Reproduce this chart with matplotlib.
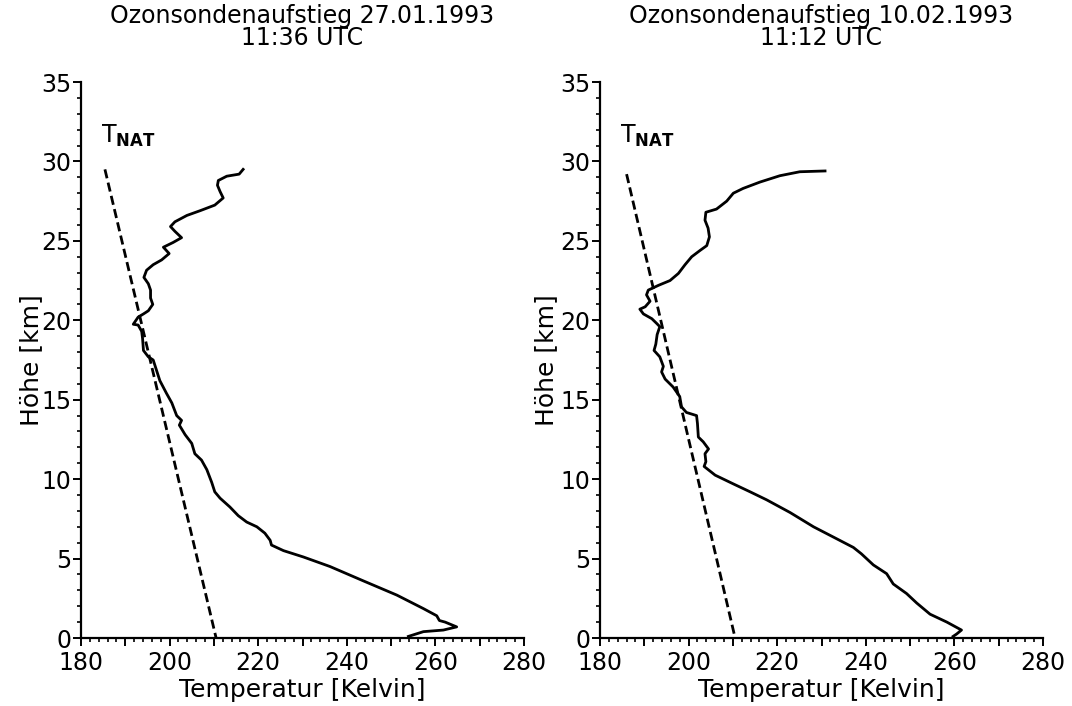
import matplotlib
matplotlib.use("Agg")
import matplotlib.pyplot as plt
from matplotlib.ticker import MultipleLocator, FuncFormatter

plt.rcParams['font.family'] = ['DejaVu Sans']
plt.rcParams['mathtext.default'] = 'regular'

# Sounding of 27.01.1993, 11:36 UTC: temperature [K] vs. altitude [km]
temp_0127 = [253.9, 257.3, 261.8, 264.8, 262.2, 260.9, 260.3, 257.3, 251.3, 243.7,
             236.2, 230.2, 225.7, 223.0, 222.7, 221.5, 219.7, 217.4, 215.5, 213.6,
             211.4, 210.2, 209.5, 208.4, 207.2, 205.7, 205.0, 203.5, 202.2, 202.7,
             201.6, 200.5, 199.3, 197.8, 196.3, 195.2, 194.1, 193.9, 193.7, 192.9,
             191.8, 192.9, 194.1, 195.2, 196.2, 195.7, 195.7, 195.2, 194.2, 194.8,
             196.3, 198.2, 199.9, 198.6, 200.8, 202.7, 201.2, 200.2, 201.2, 203.9,
             206.9, 210.2, 212.1, 211.4, 210.8, 211.0, 212.9, 215.7, 216.6]
alt_0127 = [0.1, 0.4, 0.5, 0.7, 1.0, 1.1, 1.4, 1.85, 2.7, 3.6,
            4.5, 5.1, 5.5, 5.85, 6.15, 6.6, 7.0, 7.3, 7.7, 8.25,
            8.8, 9.2, 9.8, 10.6, 11.2, 11.6, 12.25, 12.8, 13.4, 13.7,
            14.0, 14.8, 15.4, 16.2, 17.5, 17.7, 18.1, 18.85, 19.3, 19.7,
            19.75, 20.2, 20.4, 20.6, 21.0, 21.4, 21.9, 22.3, 22.7, 23.15,
            23.5, 23.8, 24.2, 24.6, 24.9, 25.2, 25.6, 25.9, 26.2, 26.6,
            26.9, 27.25, 27.7, 28.1, 28.5, 28.8, 29.07, 29.2, 29.5]

# Sounding of 10.02.1993, 11:12 UTC
temp_0210 = [259.7, 260.5, 261.6, 258.3, 254.5, 251.5, 249.2, 246.2, 244.7, 241.7,
             239.0, 237.2, 233.4, 228.2, 222.9, 217.6, 213.9, 210.1, 206.0, 203.5,
             203.9, 203.7, 204.5, 203.3, 202.2, 202.0, 201.8, 199.5, 198.4, 198.0,
             196.5, 194.7, 193.9, 194.3, 193.5, 192.2, 192.6, 192.9, 193.5, 192.8,
             191.7, 189.8, 189.0, 190.2, 191.3, 190.5, 190.9, 193.2, 195.8, 197.7,
             199.2, 200.7, 202.6, 204.1, 204.7, 204.4, 203.7, 203.9, 206.3, 208.6,
             210.1, 212.3, 216.1, 220.6, 225.1, 230.8]
alt_0210 = [0.1, 0.25, 0.5, 1.0, 1.5, 2.2, 2.8, 3.4, 4.05, 4.6,
            5.3, 5.7, 6.25, 7.0, 7.9, 8.7, 9.2, 9.7, 10.25, 10.8,
            11.1, 11.6, 11.9, 12.35, 12.65, 13.5, 14.0, 14.2, 14.55, 15.2,
            15.8, 16.3, 16.75, 17.1, 17.7, 18.1, 18.5, 19.1, 19.6, 19.8,
            20.1, 20.4, 20.7, 20.85, 21.2, 21.6, 21.9, 22.2, 22.5, 22.95,
            23.5, 24.0, 24.4, 24.7, 25.25, 25.8, 26.3, 26.8, 27.0, 27.5,
            28.0, 28.3, 28.7, 29.1, 29.35, 29.4]

# NAT existence temperature
tnat_0127_temp = [185.4, 210.5]
tnat_0127_alt = [29.5, 0.0]
tnat_0210_temp = [186.0, 210.5]
tnat_0210_alt = [29.2, 0.0]

titles = ["Ozonsondenaufstieg 27.01.1993\n11:36 UTC",
          "Ozonsondenaufstieg 10.02.1993\n11:12 UTC"]
xlabel = "Temperatur [Kelvin]"
ylabel = "Höhe [km]"
tnat_label = r"T$_{\mathbf{NAT}}$"

W, H = 1072, 706
fig = plt.figure(figsize=(W / 100, H / 100), dpi=100)

panels = [
    (81, temp_0127, alt_0127, tnat_0127_temp, tnat_0127_alt, titles[0], 31),
    (600, temp_0210, alt_0210, tnat_0210_temp, tnat_0210_alt, titles[1], 546),
]

for left_px, t, z, tn_t, tn_z, title, ylab_px in panels:
    ax = fig.add_axes([left_px / W, 1 - 638 / H, 443 / W, 556 / H])
    ax.plot(t, z, color='black', lw=2.0, solid_joinstyle='round', clip_on=False)
    ax.plot(tn_t, tn_z, color='black', lw=2.0, dashes=(3.3, 1.6), clip_on=False)
    ax.text(184.6, 31.2, tnat_label, fontsize=17, ha='left', va='baseline')

    ax.set_xlim(180, 280)
    ax.set_ylim(0, 35)
    for side in ('top', 'right'):
        ax.spines[side].set_visible(False)
    for side in ('left', 'bottom'):
        ax.spines[side].set_linewidth(1.6)

    ax.xaxis.set_major_locator(MultipleLocator(10))
    ax.xaxis.set_minor_locator(MultipleLocator(2))
    ax.xaxis.set_major_formatter(FuncFormatter(
        lambda v, p: f"{v:.0f}" if round(v) % 20 == 0 else ""))
    ax.yaxis.set_major_locator(MultipleLocator(5))
    ax.yaxis.set_minor_locator(MultipleLocator(1))

    ax.tick_params(axis='both', which='major', direction='out', length=6,
                   width=1.4, labelsize=17, pad=1)
    ax.tick_params(axis='x', which='major', pad=3)
    ax.tick_params(axis='both', which='minor', direction='out', length=3,
                   width=1.2)

    ax.set_title(title, fontsize=17, linespacing=0.88, y=1.0665, pad=0)

    cx = (left_px + 221.5) / W
    fig.text(cx, 1 - 690 / H, xlabel, fontsize=18, ha='center', va='center')
    fig.text(ylab_px / W, 1 - 360 / H, ylabel, fontsize=18, rotation=90,
             ha='center', va='center')

fig.savefig("out.png", dpi=100, facecolor='white')
